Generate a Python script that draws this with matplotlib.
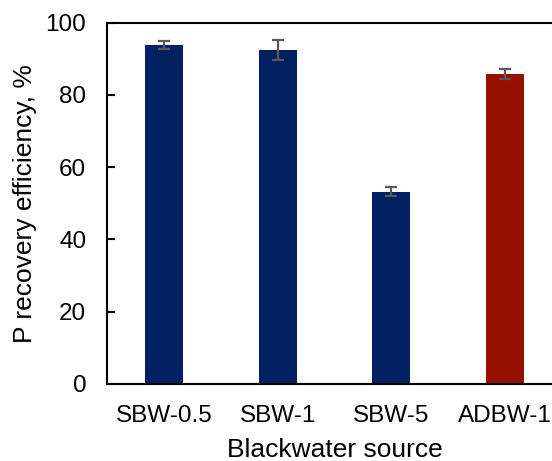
import matplotlib.pyplot as plt

plt.rcParams['font.family'] = ['Liberation Sans', 'DejaVu Sans']

sources = ['SBW-0.5', 'SBW-1', 'SBW-5', 'ADBW-1']
efficiency = [93.8, 92.4, 53.2, 85.8]
errors = [1.0, 2.7, 1.3, 1.25]
colors = ['#002060', '#002060', '#002060', '#951200']

fig = plt.figure(figsize=(5.52, 4.61), dpi=100)
# right edge lies outside the picture, as in the original crop
ax = fig.add_axes([107 / 552, 1 - 384 / 461, 455 / 552, 361.3 / 461])

x = range(len(sources))
ax.bar(x, efficiency, width=0.333, color=colors, zorder=2)
ax.errorbar(x, efficiency, yerr=errors, fmt='none', ecolor='#595959',
            elinewidth=1.6, capsize=4.3, capthick=1.6, zorder=3)

ax.set_xlim(-0.5, 3.5)
ax.set_ylim(0, 100)
ax.set_yticks([0, 20, 40, 60, 80, 100])
ax.set_xticks(list(x))
ax.set_xticklabels(sources)
ax.tick_params(axis='y', direction='in', length=6, width=1.5, labelsize=17.5, pad=15)
ax.tick_params(axis='x', length=0, labelsize=17.5, pad=15)
for s in ax.spines.values():
    s.set_linewidth(1.5)

ax.set_xlabel('Blackwater source', fontsize=19, labelpad=8)
ax.set_ylabel('P recovery efficiency, %', fontsize=19, labelpad=6)

fig.savefig('out.png', dpi=100)
